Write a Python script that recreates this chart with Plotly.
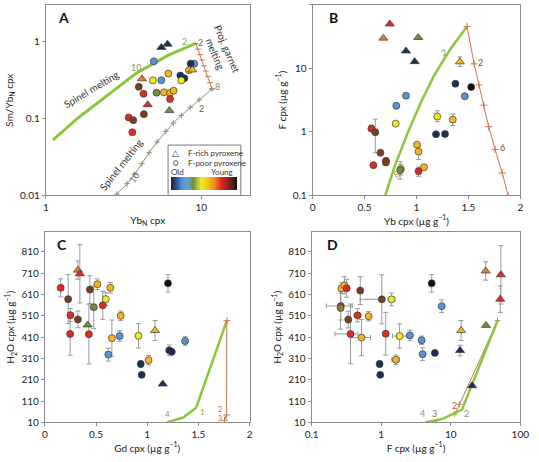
import plotly.graph_objects as go

W, H = 539, 462
def px(x): return x / W
def py(y): return 1 - y / H

COL = {
    "navy": "#1c2f52", "lb": "#5b92cf", "olive": "#758a3b", "yellow": "#f2ea1f",
    "gold": "#f4b520", "orange": "#e57a32", "red": "#de2a22", "brown": "#7b3f1e",
    "black": "#111111",
}

# ---------------- Panel A data ----------------
a_tri_x = [5.53, 6.06, 4.15, 4.52, 6.23, 8.75]
a_tri_y = [0.83, 0.915, 0.325, 0.15, 0.126, 0.424]
a_tri_c = ["navy", "navy", "orange", "red", "olive", "gold"]
a_cir_x = [4.95, 5.53, 9.0, 8.54, 7.33, 7.77, 4.88, 7.43, 6.14, 8.34, 5.75, 6.29, 6.63, 5.15,
           4.25, 6.29, 3.41, 3.6, 3.96, 4.27, 3.65]
a_cir_y = [0.548, 0.312, 0.511, 0.511, 0.359, 0.331, 0.31, 0.31, 0.38, 0.42, 0.217, 0.213, 0.228,
           0.215, 0.208, 0.178, 0.1025, 0.0658, 0.256, 0.113, 0.0947]
a_cir_c = ["lb", "lb", "lb", "navy", "navy", "navy", "yellow", "yellow", "gold", "gold", "gold",
           "gold", "gold", "olive", "red", "red", "red", "red", "brown", "brown", "brown"]
a_spinel_x = [1.11, 1.61, 2.6, 3.81, 6.14, 9.22]
a_spinel_y = [0.052, 0.101, 0.212, 0.384, 0.66, 0.934]
a_garnet_x = [9.22, 9.5, 9.8, 10.1, 10.4, 10.7, 11.0, 11.35, 11.7]
a_garnet_y = [0.934, 0.79, 0.67, 0.57, 0.48, 0.41, 0.35, 0.29, 0.24]
a_spinel2_x = [11.7, 9.67, 8.49, 7.43, 6.6, 5.91, 5.2, 4.61, 4.15, 3.72, 3.33, 2.86]
a_spinel2_y = [0.24, 0.174, 0.139, 0.109, 0.087, 0.068, 0.0495, 0.0357, 0.0258, 0.0188, 0.0142, 0.0104]

# ---------------- Panel B data ----------------
b_tri_x = [0.743, 0.681, 1.017, 0.899, 0.983, 1.418]
b_tri_y = [50, 30, 30.7, 18.8, 12.8, 12.7]
b_tri_c = ["red", "orange", "olive", "navy", "navy", "gold"]
b_tri_ep = [0, 0, 0, 0, 0, 2.5]
b_tri_em = [0, 0, 0, 0, 0, 2.0]
b_cir_x = [0.899, 0.806, 1.465, 1.375, 1.527, 1.188, 1.275, 0.8, 1.2, 1.35, 1.005, 1.02, 0.849,
           1.073, 1.02, 0.566, 0.585, 0.603, 0.653, 0.706, 0.706, 0.843]
b_cir_y = [3.73, 2.58, 3.65, 5.74, 5.1, 0.92, 0.93, 1.35, 1.75, 1.56, 0.63, 0.49, 0.26, 0.278,
           0.24, 1.13, 0.3, 0.99, 0.47, 0.35, 0.33, 0.25]
b_cir_c = ["lb", "lb", "lb", "navy", "black", "navy", "navy", "yellow", "yellow", "gold", "gold",
           "gold", "gold", "gold", "red", "red", "red", "brown", "brown", "brown", "brown", "olive"]
b_cir_ep = [0, 0, 0, 0, 0, 0, 0, 0, 0.4, 0.35, 0, 0.1, 0.05, 0, 0.04, 0.15, 0, 0.6, 0, 0.04, 0, 0.09]
b_cir_em = [0, 0, 0, 0, 0, 0, 0, 0, 0.3, 0.3, 0, 0.12, 0.05, 0, 0.04, 0, 0, 0.52, 0, 0, 0, 0.07]
b_green_x = [0.70, 0.793, 0.918, 1.042, 1.166, 1.322, 1.487]
b_green_y = [0.101, 0.298, 0.99, 2.9, 7.57, 19.7, 45.6]
b_brown_x = [1.487, 1.555, 1.602, 1.649, 1.695, 1.757, 1.826, 1.882]
b_brown_y = [45.6, 11.8, 5.5, 2.64, 1.21, 0.53, 0.226, 0.1]

# ---------------- Panel C data ----------------
c_tri_x = [0.323, 0.342, 0.418, 1.076, 1.152]
c_tri_y = [724, 707, 467, 441, 190]
c_tri_c = ["orange", "red", "olive", "gold", "navy"]
c_tri_e = [43, 137, 0, 47, 0]
c_cir_x = [0.155, 0.25, 0.247, 0.43, 0.566, 0.228, 0.323, 0.44, 0.478, 0.513, 0.639, 0.595, 0.741,
           0.655, 0.915, 1.013, 0.62, 0.731, 1.37, 1.203, 0.937, 0.946, 1.215, 1.24]
c_cir_y = [641, 513, 425, 424, 559, 588, 493, 633, 550, 658, 641, 588, 510, 405, 416, 302, 328,
           415, 392, 662, 284, 233, 348, 341]
c_cir_c = ["red", "red", "red", "red", "red", "brown", "brown", "brown", "olive", "gold", "gold",
           "yellow", "gold", "gold", "yellow", "gold", "lb", "lb", "lb", "black", "navy", "navy",
           "navy", "navy"]
c_cir_e = [42, 31, 100, 140, 66, 115, 39, 65, 100, 25, 25, 30, 22, 85, 57, 22, 30, 25, 20, 41, 15,
           0, 25, 0]
c_green_x = [1.193, 1.351, 1.478, 1.778]
c_green_y = [10, 33, 79, 487]
c_brown_x = [1.778, 1.775, 1.755]
c_brown_y = [487, 45, 20]

# ---------------- Panel D data ----------------
d_tri_x = [31.8, 52.6, 51.5, 32.1, 14.1, 13.6, 20.3]
d_tri_y = [720, 702, 588, 465, 441, 347, 182]
d_tri_c = ["orange", "red", "red", "olive", "gold", "navy", "navy"]
d_tri_e = [43, 137, 62, 0, 47, 25, 0]
d_cir_x = [0.268, 0.295, 0.318, 0.262, 0.26, 0.336, 0.457, 0.659, 0.499, 1.02, 1.41, 0.362, 1.16,
           0.52, 1.84, 1.62, 0.948, 0.968, 2.59, 3.81, 3.94, 7.41, 5.91, 5.32]
d_cir_y = [639, 653, 639, 556, 547, 492, 512, 508, 628, 587, 587, 425, 426, 408, 415, 304, 284,
           233, 418, 395, 330, 555, 336, 662]
d_cir_c = ["gold", "gold", "red", "red", "olive", "brown", "red", "gold", "brown", "brown",
           "yellow", "red", "red", "gold", "yellow", "gold", "navy", "navy", "lb", "lb", "lb", "lb",
           "navy", "black"]
d_cir_ey = [25, 40, 42, 66, 100, 39, 31, 22, 65, 115, 30, 140, 100, 85, 57, 22, 15, 0, 25, 20, 30,
            30, 0, 41]
d_cir_exp = [0, 0, 0.03, 0.12, 0, 0, 0.05, 0, 0, 0, 0.15, 0.1, 0, 0.18, 0.45, 0.2, 0, 0, 0, 0, 0,
             0, 0, 0]
d_cir_exm = [0, 0, 0.03, 0.1, 0, 0, 0.05, 0, 0, 0.52, 0.15, 0.146, 0, 0.16, 0.39, 0.2, 0, 0, 0, 0,
             0, 0, 0, 0]
d_green_x = [4.3, 7.8, 14.5, 47]
d_green_y = [10, 28, 70, 487]
d_brown_x = [5.7, 11.4, 13.4, 47]
d_brown_y = [10, 50, 95, 487]

GREEN = "#8cc63f"
BROWN = "#c8774f"
GRAYL = "#8e8e70"
ERR = dict(color="#9a9a9a", thickness=1, width=2.5)
MLINE = dict(color="#3a3a3a", width=0.7)

fig = go.Figure()

def line(x, y, ax, color, width, mode="lines", msym=None, msize=5):
    d = dict(x=x, y=y, xaxis="x" + ax, yaxis="y" + ax, mode=mode,
             line=dict(color=color, width=width), showlegend=False, hoverinfo="skip")
    if msym:
        d["marker"] = dict(symbol=msym, size=msize, color=color, line=dict(color=color, width=1))
    fig.add_trace(go.Scatter(**d))

def pts(x, y, c, ax, sym, size, ey=None, eym=None, ex=None, exm=None):
    d = dict(x=x, y=y, xaxis="x" + ax, yaxis="y" + ax, mode="markers", showlegend=False,
             marker=dict(symbol=sym, size=size, color=[COL[k] for k in c], line=MLINE))
    if ey is not None:
        d["error_y"] = dict(type="data", array=ey, arrayminus=eym if eym is not None else ey,
                            visible=True, **ERR)
    if ex is not None:
        d["error_x"] = dict(type="data", array=ex, arrayminus=exm if exm is not None else ex,
                            visible=True, **ERR)
    fig.add_trace(go.Scatter(**d))

# A
line(a_spinel_x, a_spinel_y, "", GREEN, 3)
line(a_garnet_x, a_garnet_y, "", BROWN, 1, "lines+markers", "line-ew", 4)
line(a_spinel2_x, a_spinel2_y, "", GRAYL, 1, "lines+markers", "cross-thin", 4)
pts(a_cir_x, a_cir_y, a_cir_c, "", "circle", 7)
pts(a_tri_x, a_tri_y, a_tri_c, "", "triangle-up", 8)
# B
line(b_green_x, b_green_y, "2", GREEN, 2.5)
line(b_brown_x, b_brown_y, "2", BROWN, 1, "lines+markers", "cross-thin", 5)
pts(b_cir_x, b_cir_y, b_cir_c, "2", "circle", 7, b_cir_ep, b_cir_em)
pts(b_tri_x, b_tri_y, b_tri_c, "2", "triangle-up", 8, b_tri_ep, b_tri_em)
# C
line(c_green_x, c_green_y, "3", GREEN, 2.5)
line(c_brown_x, c_brown_y, "3", BROWN, 1, "lines+markers", "cross-thin", 5)
pts(c_cir_x, c_cir_y, c_cir_c, "3", "circle", 7, c_cir_e)
pts(c_tri_x, c_tri_y, c_tri_c, "3", "triangle-up", 8, c_tri_e)
# D
line(d_brown_x, d_brown_y, "4", BROWN, 1, "lines+markers", "cross-thin", 4)
line(d_green_x, d_green_y, "4", GREEN, 2.5)
pts(d_cir_x, d_cir_y, d_cir_c, "4", "circle", 7, d_cir_ey, None, d_cir_exp, d_cir_exm)
pts(d_tri_x, d_tri_y, d_tri_c, "4", "triangle-up", 8, d_tri_e)

# colour bar (Old -> Young)
cscale = [[0, "#15233f"], [0.08, "#2a4f8a"], [0.16, "#4f8ed4"], [0.25, "#6a9fd4"],
          [0.34, "#6f8f3a"], [0.46, "#f0ec2a"], [0.56, "#f7c21a"], [0.66, "#f08a1e"],
          [0.76, "#e1261c"], [0.86, "#9b1d1d"], [0.93, "#4d2415"], [1, "#111111"]]
fig.add_trace(go.Scatter(x=[None], y=[None], mode="markers", showlegend=False,
    marker=dict(color=[0], cmin=0, cmax=1, colorscale=cscale, showscale=True,
                colorbar=dict(orientation="h", x=px(203), xanchor="center", y=py(193),
                              yanchor="bottom", len=68 / W, lenmode="fraction", thickness=13,
                              outlinewidth=0, showticklabels=False, ticks="", xpad=0, ypad=0))))

FONT = "Lato, Open Sans, sans-serif"
ax_common = dict(showline=True, mirror=True, linecolor="#8c8c8c", linewidth=1, ticks="outside",
                 ticklen=3, tickcolor="#8c8c8c", showgrid=False, zeroline=False,
                 tickfont=dict(size=10, color="#222"), title_font=dict(size=10, color="#222"))

fig.update_layout(
    width=W, height=H, margin=dict(l=0, r=0, t=0, b=0), paper_bgcolor="white",
    plot_bgcolor="white", font=dict(family=FONT, color="#222", size=10),
    xaxis=dict(ax_common, domain=[px(40), px(250)], type="log", range=[0, 1.31],
               tickvals=[1, 10], ticktext=["1", "10"], anchor="y",
               title=dict(text="Yb<sub>N</sub> cpx", standoff=4)),
    yaxis=dict(ax_common, domain=[py(198), py(5)], type="log", range=[-2, 0.47],
               tickvals=[0.01, 0.1, 1], ticktext=["0.01", "0.1", "1"], anchor="x",
               title=dict(text="Sm/Yb<sub>N</sub> cpx", standoff=4)),
    xaxis2=dict(ax_common, domain=[px(315), px(529)], range=[0, 2], tickvals=[0, 0.5, 1, 1.5, 2],
                anchor="y2", title=dict(text="Yb cpx (µg g<sup>−1</sup>)", standoff=4)),
    yaxis2=dict(ax_common, domain=[py(198), py(5)], type="log", range=[-1, 2],
                tickvals=[0.1, 1, 10, 100], ticktext=["0.1", "1", "10", "100"], anchor="x2",
                title=dict(text="F cpx (µg g<sup>−1</sup>)", standoff=4)),
    xaxis3=dict(ax_common, domain=[px(39), px(250)], range=[0, 2], tickvals=[0, 0.5, 1, 1.5, 2],
                anchor="y3", title=dict(text="Gd cpx (µg g<sup>−1</sup>)", standoff=4)),
    yaxis3=dict(ax_common, domain=[py(428), py(235)], range=[10, 903],
                tickvals=[10, 110, 210, 310, 410, 510, 610, 710, 810], anchor="x3",
                title=dict(text="H<sub>2</sub>O cpx (µg g<sup>−1</sup>)", standoff=4)),
    xaxis4=dict(ax_common, domain=[px(314), px(529)], type="log", range=[-1, 2],
                tickvals=[0.1, 1, 10, 100], ticktext=["0.1", "1", "10", "100"], anchor="y4",
                title=dict(text="F cpx (µg g<sup>−1</sup>)", standoff=4)),
    yaxis4=dict(ax_common, domain=[py(428), py(235)], range=[10, 903],
                tickvals=[10, 110, 210, 310, 410, 510, 610, 710, 810], anchor="x4",
                title=dict(text="H<sub>2</sub>O cpx (µg g<sup>−1</sup>)", standoff=4)),
)

# legend box in A
fig.add_shape(type="rect", xref="paper", yref="paper", x0=px(166), x1=px(241), y0=py(198),
              y1=py(147), line=dict(color="#555", width=0.8), fillcolor="white", layer="below")

def ann(text, x, y, size=9, color="#333", angle=0, xanchor="center", bold=False):
    fig.add_annotation(text=("<b>%s</b>" % text) if bold else text, x=px(x), y=py(y),
                       xref="paper", yref="paper", showarrow=False, textangle=angle,
                       xanchor=xanchor, yanchor="middle", font=dict(size=size, color=color))

ann("△", 174, 155, 9)
ann("F-rich pyroxene", 184, 155, 8, xanchor="left")
ann("○", 174, 165, 9)
ann("F-poor pyroxene", 184, 165, 8, xanchor="left")
ann("Old", 176, 174, 8)
ann("Young", 222, 174, 8)

# panel letters
ann("A", 58, 18, 14, "#111", bold=True)
ann("B", 336, 18, 14, "#111", bold=True)
ann("C", 57, 248, 14, "#111", bold=True)
ann("D", 335, 248, 14, "#111", bold=True)

# panel A model labels
ann("Spinel melting", 87, 90, 10, "#333", -31)
ann("Spinel melting", 117, 167, 10, "#333", -52)
ann("Proj. garnet<br>melting", 221, 52, 10, "#333", 67)
ann("10", 133, 68, 9, "#8a9a5b")
ann("2", 183, 42, 9, "#8a9a5b")
ann("2", 199, 43, 9, "#a0522d")
ann("8", 217, 88, 9, "#8a8a70")
ann("2", 200, 110, 9, "#666")
ann("10", 131, 180, 9, "#666", -55)
# panel B
ann("2", 450, 53, 9, "#8a9a5b", -30)
ann("8", 401, 177, 9, "#8a9a5b", -30)
ann("2", 488, 63, 9, "#7a4a2a")
ann("6", 511, 149, 9, "#7a4a2a")
# panel C
ann("4", 165, 419, 8, "#8a9a5b")
ann("1", 201, 417, 8, "#8a9a5b")
ann("2", 220, 414, 7, "#c06040")
ann("3", 220, 424, 7, "#c06040")
# panel D
ann("4", 428, 419, 9, "#8a9a5b")
ann("3", 441, 419, 9, "#c06040")
ann("2", 461, 411, 9, "#c06040")
ann("2", 474, 419, 9, "#8a9a5b")

fig.write_html("out.html")
